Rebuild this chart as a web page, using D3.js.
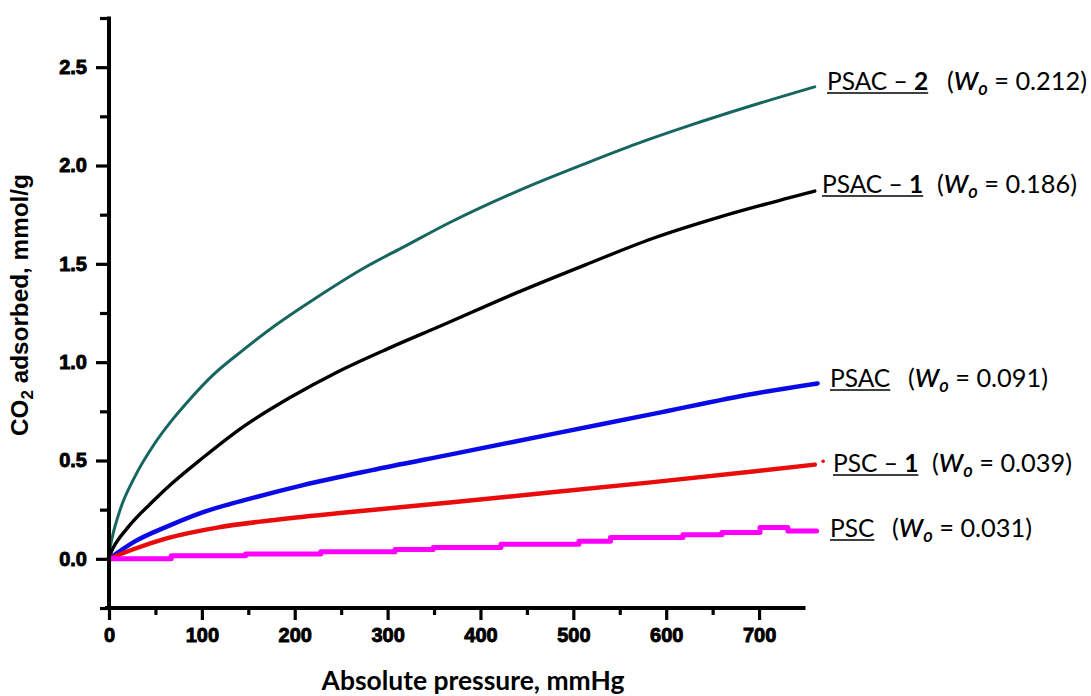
<!DOCTYPE html>
<html><head><meta charset="utf-8">
<script src="https://cdn.jsdelivr.net/npm/d3@7"></script>
<style>body{margin:0;background:#fff}</style>
</head><body><svg id="c" width="1091" height="696"></svg>
<script>
// ---------- data ----------
const xTicks = [0, 100, 200, 300, 400, 500, 600, 700];
const xMinorTicks = [50, 150, 250, 350, 450, 550, 650];
const yTicks = [0, 0.5, 1.0, 1.5, 2.0, 2.5];
const yMinorTicks = [-0.25, 0.25, 0.75, 1.25, 1.75, 2.25, 2.75];

const seriesBase   = ["PSAC – ", "PSAC – ", "PSAC", "PSC – ", "PSC"];
const seriesSuffix = ["2", "1", "", "1", ""];
const seriesW0     = ["0.212", "0.186", "0.091", "0.039", "0.031"];
const seriesColors = ["#16665f", "#000000", "#0a0ae6", "#e80c0c", "#ff00ff"];

// PSAC-2
const p_psac2 = [0, 4, 12, 27, 49, 67, 85, 111, 144, 180, 224, 275, 319, 367, 440, 513, 568, 623, 696, 760];
const q_psac2 = [0.03, 0.12, 0.25, 0.41, 0.585, 0.70, 0.80, 0.93, 1.06, 1.19, 1.33, 1.48, 1.59, 1.71, 1.87, 2.01, 2.11, 2.20, 2.31, 2.40];
// PSAC-1
const p_psac1 = [0, 5, 19.5, 49, 67, 100, 144, 195, 246, 301, 355, 440, 513, 586, 659, 732, 760];
const q_psac1 = [0.01, 0.06, 0.155, 0.30, 0.38, 0.51, 0.67, 0.82, 0.95, 1.07, 1.18, 1.355, 1.495, 1.63, 1.74, 1.835, 1.87];
// PSAC
const p_psac = [0, 27, 63, 100, 155, 209, 282, 367, 477, 586, 696, 763];
const q_psac = [0.0, 0.086, 0.165, 0.235, 0.31, 0.375, 0.45, 0.53, 0.634, 0.737, 0.841, 0.892];
// PSC-1
const p_psc1 = [0, 27, 63, 118, 173, 246, 319, 367, 477, 586, 696, 760];
const q_psc1 = [0.0, 0.05, 0.105, 0.16, 0.195, 0.232, 0.265, 0.287, 0.338, 0.39, 0.445, 0.479];
// PSC
const p_psc = [0, 67, 147, 228, 308, 349, 422, 506, 540, 618, 660, 701, 731, 762];
const q_psc = [0.0, 0.016, 0.025, 0.036, 0.048, 0.058, 0.074, 0.09, 0.108, 0.122, 0.134, 0.159, 0.142, 0.142];

const seriesP = [p_psac2, p_psac1, p_psac, p_psc1, p_psc];
const seriesQ = [q_psac2, q_psac1, q_psac, q_psc1, q_psc];

// ---------- layout ----------
const svg = d3.select("#c");
svg.append("rect").attr("width", 1091).attr("height", 696).attr("fill", "#fff");

const x = d3.scaleLinear().domain([0, 750]).range([109, 805.5]);
const y = d3.scaleLinear().domain([-0.25, 2.75]).range([608, 18]);

const tickFont = "'Liberation Sans', Arial, sans-serif";
const labelFont = "Lato, 'Open Sans', sans-serif";

// curves
const widths = [3, 3.4, 4.5, 4.5, 5];
seriesP.forEach((P, i) => {
  const pts = P.map((p, j) => [p, seriesQ[i][j]]);
  const line = d3.line()
    .x(d => x(d[0])).y(d => y(d[1]))
    .curve(i === 4 ? d3.curveStepAfter : d3.curveMonotoneX);
  svg.append("path").attr("d", line(pts))
    .attr("fill", "none").attr("stroke", seriesColors[i])
    .attr("stroke-width", widths[i]).attr("stroke-linejoin", "round")
    .attr("stroke-linecap", "round");
});
// stray point at the end of PSC-1
svg.append("circle").attr("cx", x(769)).attr("cy", y(0.496)).attr("r", 1.8).attr("fill", seriesColors[3]);

// axes
const gy = svg.append("g").attr("transform", `translate(${x(0)},0)`);
gy.call(d3.axisLeft(y).tickValues(yMinorTicks).tickSize(9).tickFormat("").tickSizeOuter(0));
gy.call(g => g.select(".domain").remove());
const gy2 = svg.append("g").attr("transform", `translate(${x(0)},0)`);
gy2.call(d3.axisLeft(y).tickValues(yTicks).tickSize(13).tickPadding(9).tickSizeOuter(0).tickFormat(d3.format(".1f")));
gy2.select(".domain").remove();
svg.append("line").attr("x1", x(0)).attr("x2", x(0)).attr("y1", y(2.75) - 1.5).attr("y2", y(-0.25) + 2)
  .attr("stroke", "#000").attr("stroke-width", 4);

const gx = svg.append("g").attr("transform", `translate(0,${y(-0.25)})`);
gx.call(d3.axisBottom(x).tickValues(xMinorTicks).tickSize(7).tickFormat("").tickSizeOuter(0));
gx.select(".domain").remove();
const gx2 = svg.append("g").attr("transform", `translate(0,${y(-0.25)})`);
gx2.call(d3.axisBottom(x).tickValues(xTicks).tickSize(12).tickPadding(8).tickSizeOuter(0).tickFormat(d3.format("d")));
gx2.select(".domain").remove();
svg.append("line").attr("x1", x(0) - 4).attr("x2", x(750)).attr("y1", y(-0.25)).attr("y2", y(-0.25))
  .attr("stroke", "#000").attr("stroke-width", 4);

svg.selectAll(".tick line").attr("stroke", "#000").attr("stroke-width", 3.2);
svg.selectAll(".tick text").attr("font-family", tickFont).attr("font-weight", "bold")
  .attr("font-size", 20).attr("fill", "#000").attr("stroke", "#000").attr("stroke-width", 0.9);

// axis titles
const fit = (sel, target) => {
  const len = sel.node().getComputedTextLength();
  const fs = parseFloat(sel.attr("font-size"));
  sel.attr("font-size", fs * target / len);
};
const xt = svg.append("text").attr("x", 473).attr("y", 690).attr("text-anchor", "middle")
  .attr("font-family", labelFont).attr("font-weight", "bold").attr("font-size", 24).attr("fill", "#000")
  .text("Absolute pressure, mmHg");
fit(xt, 303);

const yt = svg.append("text").attr("transform", "translate(28,305) rotate(-90)")
  .attr("text-anchor", "middle").attr("font-family", tickFont).attr("font-weight", "bold")
  .attr("font-size", 22).attr("fill", "#000");
yt.append("tspan").text("CO");
yt.append("tspan").attr("font-size", "0.7em").attr("dy", 5).text("2");
yt.append("tspan").attr("dy", -5).text(" adsorbed, mmol/g");
fit(yt, 262);

// labels
const labelLayout = [
  { x: 827, y: 90, px: 947 },
  { x: 822, y: 193, px: 937 },
  { x: 830, y: 387, px: 908 },
  { x: 833, y: 472, px: 932 },
  { x: 830, y: 537, px: 892 }
];
const LFS = 24.5;
labelLayout.forEach((L, i) => {
  const t = svg.append("text").attr("x", L.x).attr("y", L.y)
    .attr("font-family", labelFont).attr("font-size", LFS).attr("fill", "#000");
  t.append("tspan").text(seriesBase[i].replace(/ $/, "\u00a0"));
  if (seriesSuffix[i]) t.append("tspan").attr("font-weight", "bold").text(seriesSuffix[i]);
  const w = t.node().getComputedTextLength();
  svg.append("line").attr("x1", L.x).attr("x2", L.x + w).attr("y1", L.y + 3).attr("y2", L.y + 3)
    .attr("stroke", "#000").attr("stroke-width", 1.7);
  const t2 = svg.append("text").attr("x", L.px).attr("y", L.y)
    .attr("font-family", labelFont).attr("font-size", LFS).attr("fill", "#000");
  t2.append("tspan").text("(");
  t2.append("tspan").attr("font-style", "italic").attr("font-weight", 600).text("W");
  t2.append("tspan").attr("font-style", "italic").attr("font-weight", 600).attr("font-size", LFS * 0.72).attr("dy", 5).text("o");
  t2.append("tspan").attr("dy", -5).text("\u00a0= " + seriesW0[i] + ")");
  const w2 = t2.node().getComputedTextLength();
  t2.attr("font-size", LFS * 140 / w2);
  t2.selectAll("tspan").filter(function () { return d3.select(this).text() === "o"; })
    .attr("font-size", LFS * 0.72 * 140 / w2);
});
</script>
</body></html>
